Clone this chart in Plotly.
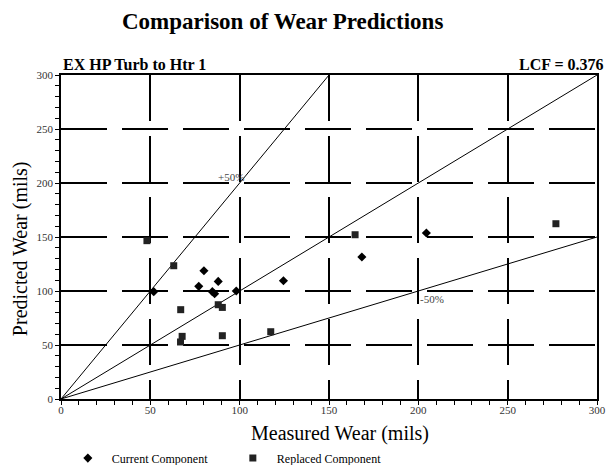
import plotly.graph_objects as go

# ---- data ----
current_x = [51.9, 77.1, 80.0, 84.7, 86.0, 88.0, 98.1, 124.5, 168.4, 204.5]
current_y = [99.4, 104.3, 118.8, 99.4, 97.5, 108.9, 100.0, 109.5, 131.5, 153.7]
replaced_x = [48.1, 63.1, 67.0, 67.8, 66.9, 88.0, 90.3, 90.3, 117.4, 164.6, 277.0]
replaced_y = [146.6, 123.4, 82.7, 58.0, 52.8, 87.3, 84.8, 58.6, 62.3, 152.1, 162.3]
line_slopes = [2.0, 1.0, 0.5]
axis_max = 300
tick_vals = [0, 50, 100, 150, 200, 250, 300]
series_names = ["Current Component", "Replaced Component"]
title_text = "Comparison of Wear Predictions"
case_label = "EX HP Turb to Htr 1"
lcf_label = "LCF = 0.376"

FONT = "Liberation Serif"

fig = go.Figure()

# reference lines (y = k*x) clipped to the axis box
for k in line_slopes:
    x_end = min(axis_max, axis_max / k)
    fig.add_trace(go.Scatter(
        x=[0, x_end], y=[0, k * x_end], mode="lines",
        line=dict(color="black", width=1), showlegend=False, hoverinfo="skip"))

fig.add_trace(go.Scatter(
    x=current_x, y=current_y, mode="markers", name=series_names[0],
    marker=dict(symbol="diamond", size=7, color="black")))
fig.add_trace(go.Scatter(
    x=replaced_x, y=replaced_y, mode="markers", name=series_names[1],
    marker=dict(symbol="square", size=7, color="#222222")))

axis_common = dict(
    range=[0, axis_max], tickvals=tick_vals, showline=True, mirror=True,
    linecolor="black", linewidth=1.5, showgrid=True, gridcolor="black",
    gridwidth=1.5, griddash="46px,15px", zeroline=False,
    tickfont=dict(family=FONT, size=11, color="#333333"),
    minor=dict(dtick=10, ticks="outside", ticklen=4, tickcolor="black",
               showgrid=False),
)

fig.update_xaxes(**axis_common, ticks="", ticklen=0)
fig.update_yaxes(**axis_common, ticks="outside", ticklen=4, tickcolor="black")

fig.add_annotation(text="<b>" + title_text + "</b>", xref="paper", yref="paper",
                   x=0.414, y=1.165, xanchor="center", yanchor="middle",
                   showarrow=False, font=dict(family=FONT, size=23, color="black"))
fig.add_annotation(text="<b>" + case_label + "</b>", xref="paper", yref="paper",
                   x=0.0, y=1.0, xanchor="left", yanchor="bottom",
                   showarrow=False, font=dict(family=FONT, size=16, color="black"))
fig.add_annotation(text="<b>" + lcf_label + "</b>", xref="paper", yref="paper",
                   x=1.0168, y=1.0, xanchor="right", yanchor="bottom",
                   showarrow=False, font=dict(family=FONT, size=16, color="black"))
fig.add_annotation(text="Measured Wear (mils)", xref="paper", yref="paper",
                   x=0.520, y=-0.105, xanchor="center", yanchor="middle",
                   showarrow=False, font=dict(family=FONT, size=20, color="black"))
fig.add_annotation(text="Predicted Wear (mils)", xref="paper", yref="paper",
                   x=-0.075, y=0.465, xanchor="center", yanchor="middle",
                   textangle=-90, showarrow=False,
                   font=dict(family=FONT, size=20, color="black"))
fig.add_annotation(text="+50%", x=87, y=206, xanchor="left", yanchor="middle",
                   showarrow=False, font=dict(family=FONT, size=11, color="#444444"))
fig.add_annotation(text="-50%", x=200, y=93, xanchor="left", yanchor="middle",
                   showarrow=False, font=dict(family=FONT, size=11, color="#444444"))

fig.update_layout(
    width=608, height=465,
    margin=dict(l=61, r=11, t=75, b=66, autoexpand=False),
    paper_bgcolor="white", plot_bgcolor="white",
    font=dict(family=FONT, color="black"),
    showlegend=True,
    legend=dict(orientation="h", xref="container", yref="container",
                x=0.105, y=0.046, xanchor="left", yanchor="top",
                font=dict(family=FONT, size=12, color="black"),
                itemwidth=38,
                entrywidth=112, entrywidthmode="pixels",
                bgcolor="rgba(0,0,0,0)"),
)

fig.write_html("out.html", config={"displayModeBar": False},
               post_script="document.body.style.margin='0px';document.body.style.overflow='hidden';")
